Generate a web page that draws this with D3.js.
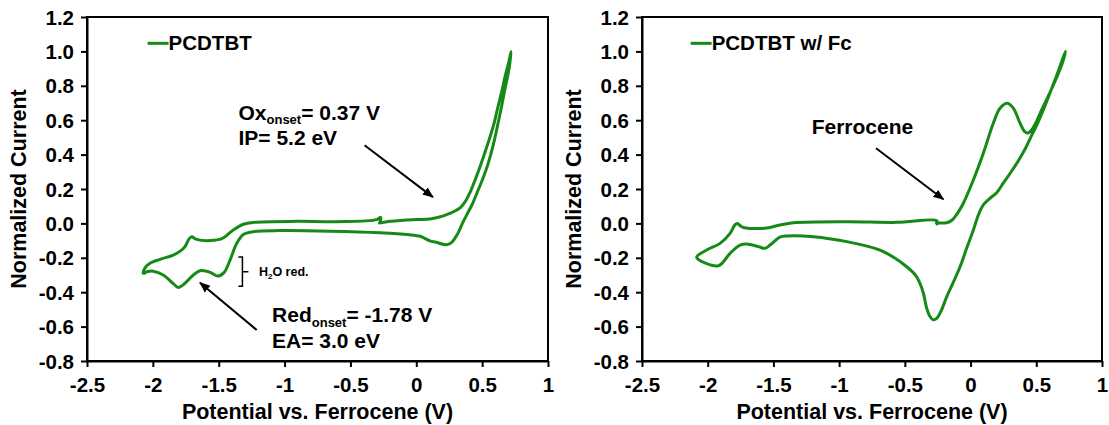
<!DOCTYPE html>
<html><head><meta charset="utf-8">
<script src="https://cdn.jsdelivr.net/npm/d3@7"></script>
<style>
html,body{margin:0;padding:0;background:#fff;}
text{font-family:"Liberation Sans",Arial,sans-serif;font-weight:bold;fill:#000;}
</style></head>
<body>
<svg id="chart" width="1109" height="425"></svg>
<script>
// ---- data ----
const xTicks = [-2.5, -2, -1.5, -1, -0.5, 0, 0.5, 1];
const yTicks = [1.2, 1.0, 0.8, 0.6, 0.4, 0.2, 0.0, -0.2, -0.4, -0.6, -0.8];
const xTitle = "Potential vs. Ferrocene (V)";
const yTitle = "Normalized Current";
const seriesNames = ["PCDTBT", "PCDTBT w/ Fc"];

// PCDTBT: potential (V) and normalized current
const pcdtbtPotential = [-0.28,-0.2,-0.1,0.0,0.104,0.2,0.256,0.3,0.335,0.37,0.416,0.45,0.484,0.52,0.552,0.59,0.62,0.65,0.674,0.70,0.72,
  0.71,0.693,0.67,0.647,0.62,0.593,0.565,0.538,0.505,0.47,0.43,0.389,0.35,0.316,0.267,0.226,0.15,0.104,0.06,0.03,-0.05,-0.275,-0.655,-1.035,-1.237,-1.313,-1.363,-1.414,-1.46,-1.51,-1.55,-1.59,-1.642,-1.693,-1.756,-1.807,-1.845,-1.921,-1.997,-2.04,-2.072,
  -2.06,-2.022,-1.946,-1.845,-1.79,-1.756,-1.725,-1.705,-1.667,-1.566,-1.477,-1.389,-1.313,-1.237,-0.908,-0.604,-0.3,-0.27,-0.275];
const pcdtbtCurrent = [0.002,0.012,0.018,0.022,0.026,0.042,0.059,0.075,0.092,0.125,0.194,0.26,0.33,0.41,0.484,0.58,0.678,0.77,0.853,0.93,1.0,
  0.93,0.853,0.77,0.678,0.58,0.484,0.40,0.33,0.26,0.194,0.12,0.058,0.0,-0.058,-0.112,-0.124,-0.11,-0.102,-0.085,-0.075,-0.066,-0.054,-0.045,-0.042,-0.048,-0.064,-0.116,-0.213,-0.286,-0.306,-0.29,-0.278,-0.275,-0.30,-0.348,-0.372,-0.35,-0.30,-0.278,-0.28,-0.29,
  -0.26,-0.232,-0.209,-0.184,-0.16,-0.135,-0.09,-0.078,-0.093,-0.10,-0.089,-0.038,-0.005,0.006,0.012,0.01,0.022,0.035,0.005];

// PCDTBT with ferrocene
const fcPotential = [-0.26,-0.181,-0.14,-0.118,-0.09,-0.055,0.021,0.097,0.173,0.224,0.28,0.326,0.377,0.41,0.435,0.466,0.50,0.529,0.6,0.656,0.70,0.722,
  0.70,0.66,0.62,0.58,0.54,0.50,0.47,0.42,0.36,0.30,0.25,0.20,0.148,0.097,0.06,0.021,-0.03,-0.08,-0.13,-0.181,-0.225,-0.257,-0.285,-0.31,-0.335,-0.359,-0.39,-0.42,-0.486,-0.58,-0.689,-0.942,-1.196,-1.399,-1.45,-1.526,-1.564,-1.615,-1.703,-1.754,-1.83,-1.919,-2.084,
  -2.008,-1.906,-1.83,-1.795,-1.775,-1.75,-1.729,-1.678,-1.551,-1.45,-1.349,-0.942,-0.562,-0.257,-0.255];
const fcCurrent = [0.003,0.004,0.02,0.039,0.07,0.117,0.252,0.408,0.582,0.669,0.698,0.669,0.582,0.535,0.525,0.545,0.59,0.64,0.755,0.85,0.935,1.0,
  0.955,0.87,0.79,0.71,0.635,0.565,0.52,0.44,0.36,0.29,0.235,0.18,0.146,0.107,0.05,-0.038,-0.145,-0.252,-0.34,-0.426,-0.51,-0.552,-0.56,-0.54,-0.49,-0.406,-0.34,-0.30,-0.252,-0.20,-0.155,-0.106,-0.077,-0.073,-0.08,-0.126,-0.145,-0.135,-0.12,-0.126,-0.174,-0.246,-0.197,
  -0.155,-0.116,-0.058,-0.01,0.0,-0.015,-0.024,-0.029,-0.027,-0.009,0.004,0.01,0.006,0.016,-0.004];

// ---- drawing ----
const GREEN = "#168a16";
const svg = d3.select("#chart");
const defs = svg.append("defs");
defs.append("marker").attr("id","ah").attr("viewBox","0 0 10 10").attr("refX",9).attr("refY",5)
  .attr("markerWidth",5.5).attr("markerHeight",5.5).attr("orient","auto").attr("markerUnits","strokeWidth")
  .append("path").attr("d","M0,1 L10,5 L0,9 z").attr("fill","#000");

const panels = [
  {left:87, right:548, name:seriesNames[0], px:pcdtbtPotential, cy:pcdtbtCurrent, legX:-2.04},
  {left:642, right:1102, name:seriesNames[1], px:fcPotential, cy:fcCurrent, legX:-2.13}
];
const plotTop = 17, plotBottom = 361;
const TICK_FS = 20.5, TITLE_FS = 21.5, ANN_FS = 21;

panels.forEach((p,i) => {
  const x = d3.scaleLinear().domain([-2.5,1]).range([p.left,p.right]);
  const y = d3.scaleLinear().domain([-0.8,1.2]).range([plotBottom,plotTop]);
  p.x = x; p.y = y;
  const g = svg.append("g");
  g.append("rect").attr("x",p.left).attr("y",plotTop).attr("width",p.right-p.left).attr("height",plotBottom-plotTop)
    .attr("fill","none").attr("stroke","#000").attr("stroke-width",2);
  const xa = g.append("g").attr("transform",`translate(0,${plotBottom})`)
    .call(d3.axisBottom(x).tickValues(xTicks).tickSize(6).tickSizeOuter(0).tickFormat(d=>String(d)));
  const ya = g.append("g").attr("transform",`translate(${p.left},0)`)
    .call(d3.axisLeft(y).tickValues(yTicks).tickSize(6).tickSizeOuter(0).tickFormat(d=>d.toFixed(1)));
  [xa,ya].forEach(a=>{
    a.attr("font-size",TICK_FS).attr("font-family",null);
    a.select(".domain").attr("stroke","#000").attr("stroke-width",2);
    a.selectAll(".tick line").attr("stroke","#000").attr("stroke-width",2);
    a.selectAll(".tick text").style("font-size",TICK_FS+"px").attr("fill","#000");
  });
  xa.selectAll(".tick text").attr("y",16).attr("dy","0.71em");
  ya.selectAll(".tick text").attr("x",-13).attr("dy","0.35em");
  g.append("text").attr("x",(p.left+p.right)/2).attr("y",419).attr("text-anchor","middle").style("font-size",TITLE_FS+"px").text(xTitle);
  g.append("text").attr("transform",`translate(${p.left-61},${(plotTop+plotBottom)/2}) rotate(-90)`)
    .attr("text-anchor","middle").style("font-size",TITLE_FS+"px").text(yTitle);
  const pts = p.px.map((v,k)=>[v,p.cy[k]]);
  g.append("path").datum(pts).attr("fill","none").attr("stroke",GREEN).attr("stroke-width",3)
    .attr("stroke-linejoin","round").attr("stroke-linecap","round")
    .attr("d", d3.line().x(d=>x(d[0])).y(d=>y(d[1])).curve(d3.curveCatmullRom.alpha(0.5)));
  g.append("line").attr("x1",x(p.legX)).attr("x2",x(p.legX)+21).attr("y1",y(1.047)).attr("y2",y(1.047))
    .attr("stroke",GREEN).attr("stroke-width",3);
  g.append("text").attr("x",x(p.legX)+21).attr("y",y(1.047)).attr("dy","0.35em").style("font-size","20.5px").text(p.name);
});

function arrow(p, x1,y1,x2,y2){
  svg.append("line").attr("x1",p.x(x1)).attr("y1",p.y(y1)).attr("x2",p.x(x2)).attr("y2",p.y(y2))
    .attr("stroke","#000").attr("stroke-width",2).attr("marker-end","url(#ah)");
}
function subText(p, xv, yv, main, sub, rest, fs){
  const t = svg.append("text").attr("x",p.x(xv)).attr("y",p.y(yv)).style("font-size",fs+"px");
  t.append("tspan").text(main);
  if(sub){
    t.append("tspan").style("font-size",(fs*0.62)+"px").attr("dy",fs*0.2).text(sub);
    t.append("tspan").attr("dy",-fs*0.2).text(rest);
  }
  return t;
}
const L = panels[0], R = panels[1];
subText(L,-1.35,0.601,"Ox","onset","= 0.37 V",ANN_FS);
subText(L,-1.35,0.453,"IP= 5.2 eV",null,null,ANN_FS);
arrow(L,-0.393,0.454,0.126,0.153);
subText(L,-1.095,-0.575,"Red","onset","= -1.78 V",ANN_FS);
subText(L,-1.095,-0.722,"EA= 3.0 eV",null,null,ANN_FS);
arrow(L,-1.211,-0.62,-1.642,-0.345);
(function(){
  const bx = L.x(-1.32), t = L.y(-0.195), b = L.y(-0.366), m = (t+b)/2;
  svg.append("path").attr("d",`M${bx-4},${t} H${bx} V${b} H${bx-4} M${bx},${m} H${bx+6}`)
    .attr("fill","none").attr("stroke","#000").attr("stroke-width",1.5);
  const t2 = svg.append("text").attr("x",bx+16.5).attr("y",m+4.5).style("font-size","12.5px");
  t2.append("tspan").text("H");
  t2.append("tspan").style("font-size","8px").attr("dy",3).text("2");
  t2.append("tspan").attr("dy",-3).text("O red.");
})();
subText(R,-1.209,0.52,"Ferrocene",null,null,ANN_FS);
arrow(R,-0.719,0.437,-0.207,0.14);
</script>
</body></html>
